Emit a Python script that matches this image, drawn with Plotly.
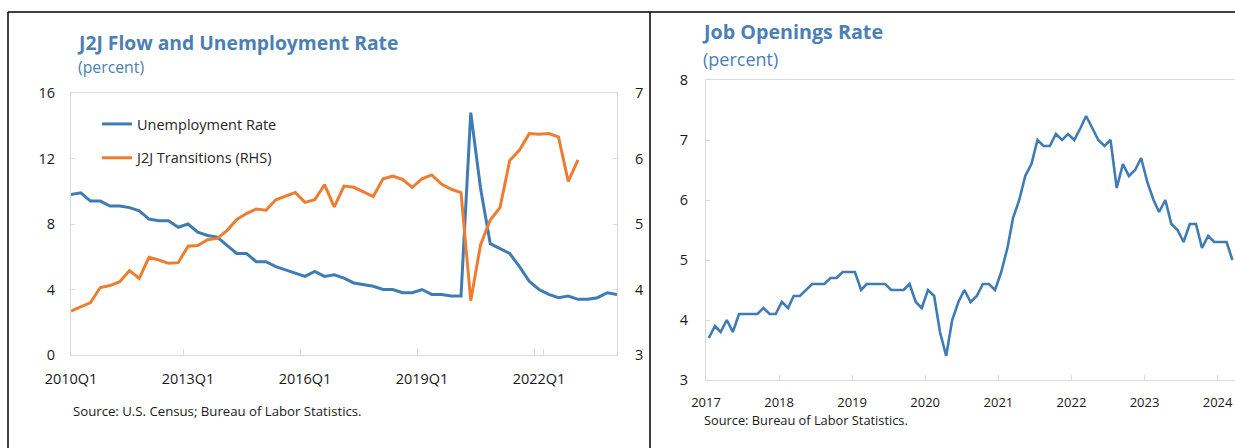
import plotly.graph_objects as go
import pandas as pd

W, H = 1235, 448

# ---------------- data ----------------
quarters = [f"{y}Q{q}" for y in range(2010, 2025) for q in range(1, 5)][:57]
left_tick_labels = ["2010Q1", "2013Q1", "2016Q1", "2019Q1", "2022Q1"]

unemployment_rate = [9.8, 9.9, 9.4, 9.4, 9.1, 9.1, 9.0, 8.8, 8.3, 8.2,
                     8.2, 7.8, 8.0, 7.5, 7.3, 7.2, 6.7, 6.2, 6.2, 5.7,
                     5.7, 5.4, 5.2, 5.0, 4.8, 5.1, 4.8, 4.9, 4.7, 4.4,
                     4.3, 4.2, 4.0, 4.0, 3.8, 3.8, 4.0, 3.7, 3.7, 3.6,
                     3.6, 14.8, 10.2, 6.8, 6.5, 6.2, 5.4, 4.5, 4.0, 3.7,
                     3.5, 3.6, 3.4, 3.4, 3.5, 3.8, 3.7]

j2j_transitions = [3.67, 3.74, 3.80, 4.03, 4.06, 4.12, 4.29, 4.17, 4.49, 4.45,
                   4.40, 4.41, 4.66, 4.67, 4.76, 4.78, 4.90, 5.07, 5.16, 5.23,
                   5.21, 5.37, 5.42, 5.48, 5.33, 5.37, 5.60, 5.26, 5.58, 5.56,
                   5.49, 5.42, 5.69, 5.73, 5.68, 5.56, 5.69, 5.75, 5.61, 5.53,
                   5.48, 3.83, 4.68, 5.06, 5.25, 5.97, 6.13, 6.38, 6.37, 6.38,
                   6.33, 5.65, 5.98]

months = pd.date_range("2017-01-01", periods=87, freq="MS") + pd.Timedelta(days=14)
right_tick_years = [str(y) for y in range(2017, 2025)]

job_openings_rate = [3.7, 3.9, 3.8, 4.0, 3.8, 4.1, 4.1, 4.1, 4.1, 4.2,
                     4.1, 4.1, 4.3, 4.2, 4.4, 4.4, 4.5, 4.6, 4.6, 4.6,
                     4.7, 4.7, 4.8, 4.8, 4.8, 4.5, 4.6, 4.6, 4.6, 4.6,
                     4.5, 4.5, 4.5, 4.6, 4.3, 4.2, 4.5, 4.4, 3.8, 3.4,
                     4.0, 4.3, 4.5, 4.3, 4.4, 4.6, 4.6, 4.5, 4.8, 5.2,
                     5.7, 6.0, 6.4, 6.6, 7.0, 6.9, 6.9, 7.1, 7.0, 7.1,
                     7.0, 7.2, 7.4, 7.2, 7.0, 6.9, 7.0, 6.2, 6.6, 6.4,
                     6.5, 6.7, 6.3, 6.0, 5.8, 6.0, 5.6, 5.5, 5.3, 5.6,
                     5.6, 5.2, 5.4, 5.3, 5.3, 5.3, 5.0]

# ---------------- style ----------------
BLUE = "#3f7cb3"
ORANGE = "#ed7d31"
TITLE = "#4a80b5"
FRAME = "#d9d9d9"
TXT = "#1a1a1a"
FONT = "Open Sans"


def px(x):
    return x / W


def py(y):
    return 1 - y / H


fig = go.Figure()
fig.add_trace(go.Scatter(x=quarters, y=unemployment_rate, name="Unemployment Rate",
                         mode="lines", line=dict(color=BLUE, width=3),
                         xaxis="x", yaxis="y", legendgroup="u"))
fig.add_trace(go.Scatter(x=quarters[:len(j2j_transitions)], y=j2j_transitions,
                         name="J2J Transitions (RHS)", mode="lines",
                         line=dict(color=ORANGE, width=3),
                         xaxis="x", yaxis="y2", legendgroup="j"))
fig.add_trace(go.Scatter(x=months, y=job_openings_rate, mode="lines",
                         line=dict(color=BLUE, width=2.6), showlegend=False,
                         xaxis="x2", yaxis="y3"))

axis_common = dict(showgrid=False, zeroline=False, showline=True, linecolor=FRAME,
                   linewidth=1, ticks="inside", tickcolor=FRAME, automargin=False)

fig.update_layout(
    width=W, height=H,
    margin=dict(l=0, r=0, t=0, b=0, pad=0, autoexpand=False),
    paper_bgcolor="white", plot_bgcolor="white",
    font=dict(family=FONT, color=TXT, size=14),
    showlegend=True,
    legend=dict(x=px(97), y=py(108), xanchor="left", yanchor="top",
                bgcolor="rgba(0,0,0,0)", font=dict(size=14.5, color="#262626"),
                tracegroupgap=12, itemwidth=30),
    xaxis=dict(domain=[px(71), px(617)], type="category", categoryorder="array",
               categoryarray=quarters, tickmode="array", tickvals=left_tick_labels,
               tickson="boundaries", ticklen=6, mirror=True, anchor="y",
               tickangle=0, tickfont=dict(size=14.5), ticklabelstandoff=11,
               **axis_common),
    yaxis=dict(domain=[py(355), py(93)], range=[0, 16], dtick=4, ticklen=4,
               mirror=True, anchor="x", tickfont=dict(size=14.5),
               ticklabelstandoff=12, **axis_common),
    yaxis2=dict(range=[3, 7], dtick=1, overlaying="y", side="right", anchor="x",
                ticklen=4, tickfont=dict(size=14.5), ticklabelstandoff=14,
                **axis_common),
    xaxis2=dict(domain=[px(706), 1], type="date",
                range=["2017-01-01", "2024-03-28"], tickmode="array",
                tickvals=[f"{y}-01-01" for y in right_tick_years],
                ticktext=right_tick_years, ticklen=5, mirror=True, anchor="y3",
                tickangle=0, tickfont=dict(size=13), ticklabelstandoff=10,
                **axis_common),
    yaxis3=dict(domain=[py(380), py(80)], range=[3, 8], dtick=1, ticklen=4,
                anchor="x2", tickfont=dict(size=14.5), ticklabelstandoff=14,
                **axis_common),
)

# titles and notes
fig.add_annotation(text="<b>J2J Flow and Unemployment Rate</b>", xref="paper", yref="paper",
                   x=px(75), y=py(42), xanchor="left", yanchor="middle", showarrow=False,
                   font=dict(size=19.3, color=TITLE))
fig.add_annotation(text="(percent)", xref="paper", yref="paper",
                   x=px(76), y=py(67), xanchor="left", yanchor="middle", showarrow=False,
                   font=dict(size=15.8, color=TITLE))
fig.add_annotation(text="<b>Job Openings Rate</b>", xref="paper", yref="paper",
                   x=px(700), y=py(32), xanchor="left", yanchor="middle", showarrow=False,
                   font=dict(size=19.7, color=TITLE))
fig.add_annotation(text="(percent)", xref="paper", yref="paper",
                   x=px(701), y=py(59), xanchor="left", yanchor="middle", showarrow=False,
                   font=dict(size=18, color=TITLE))
fig.add_annotation(text="Source: U.S. Census; Bureau of Labor Statistics.", xref="paper",
                   yref="paper", x=px(71), y=py(411), xanchor="left", yanchor="middle",
                   showarrow=False, font=dict(size=13.2, color=TXT))
fig.add_annotation(text="Source: Bureau of Labor Statistics.", xref="paper",
                   yref="paper", x=px(702), y=py(420), xanchor="left", yanchor="middle",
                   showarrow=False, font=dict(size=12.8, color=TXT))

# panel borders
border = dict(type="line", xref="paper", yref="paper", line=dict(color="black", width=1.5))
fig.add_shape(x0=px(8), x1=px(8), y0=py(12), y1=py(449), **border)
fig.add_shape(x0=px(8), x1=px(1236), y0=py(12), y1=py(12), **border)
fig.add_shape(x0=px(650), x1=px(650), y0=py(12), y1=py(449), **border)

fig.write_html("out.html", config={"displayModeBar": False},
               post_script="document.body.style.margin='0';document.body.style.overflow='hidden';")
